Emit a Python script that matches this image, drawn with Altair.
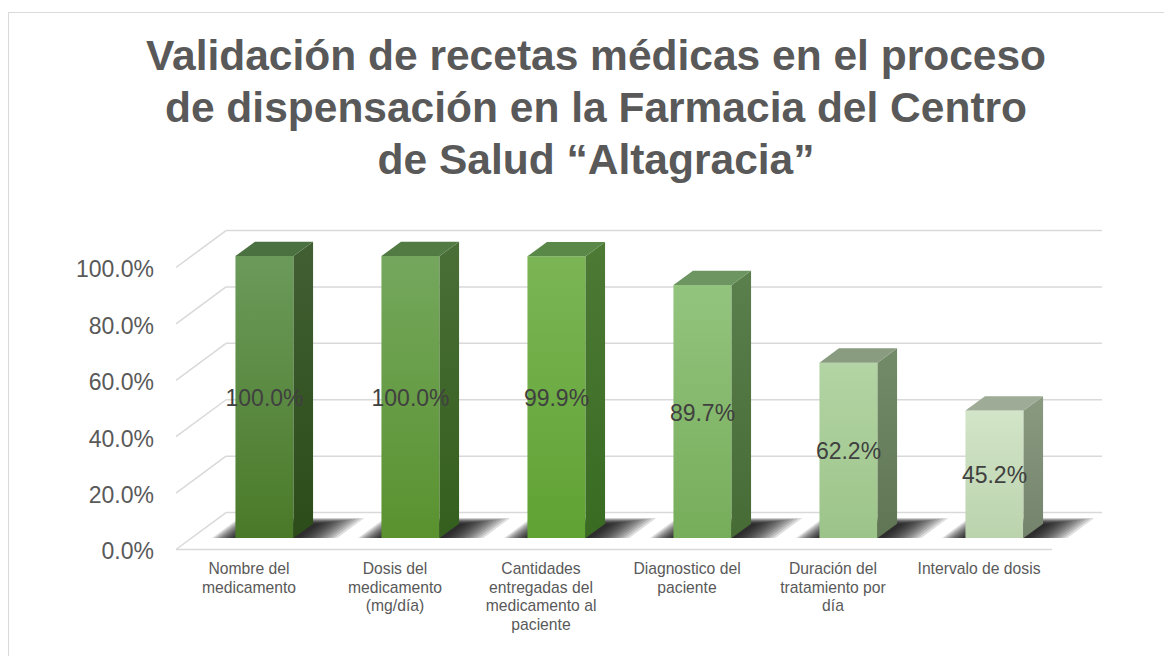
import altair as alt
import pandas as pd

# ---------------- data ----------------
categories = [
    "Nombre del\nmedicamento",
    "Dosis del\nmedicamento\n(mg/día)",
    "Cantidades\nentregadas del\nmedicamento al\npaciente",
    "Diagnostico del\npaciente",
    "Duración del\ntratamiento por\ndía",
    "Intervalo de dosis",
]
values = [100.0, 100.0, 99.9, 89.7, 62.2, 45.2]
value_labels = ["100.0%", "100.0%", "99.9%", "89.7%", "62.2%", "45.2%"]
y_ticks = [0, 20, 40, 60, 80, 100]
y_tick_labels = ["0.0%", "20.0%", "40.0%", "60.0%", "80.0%", "100.0%"]
title_lines = [
    "Validación de recetas médicas en el proceso",
    "de dispensación en la Farmacia del Centro",
    "de Salud “Altagracia”",
]

# ---------------- styles ----------------
front_top = ["#6b9a5b", "#74a75d", "#7bb555", "#93c47e", "#b3d4a4", "#d2e5c8"]
front_bot = ["#4a7a28", "#5a922f", "#60a233", "#76ad5a", "#9cc489", "#bbd3ad"]
side_top = ["#415f33", "#4a6e37", "#4d7a35", "#5b7f4d", "#748b6a", "#8a9a81"]
side_bot = ["#2c4c19", "#345f1d", "#396b22", "#476b35", "#5f7553", "#74836b"]
top_face = ["#4b7141", "#527b44", "#5a8848", "#6c9561", "#8a9c80", "#9eab96"]
GRID = "#d9d9d9"
FONT = "Liberation Sans"

# 3D projection (in data units of the two scales)
X_DOMAIN = [-1.6507, 6.2671]
Y_DOMAIN = [-37.77, 190.60]
DU, DV = 0.3425, 13.1     # full depth of the floor
F0, F1 = 0.31, 0.70       # depth span of the bars
HALF = 0.199              # half width of a bar front
W, H = 1156, 644

# soft shadow built from nested translucent layers (outer -> inner)
SH_STEPS = 12
SH_RIGHT = (0.30, 0.04)
SH_LEFT = (0.16, 0.0)
SH_BACK = (0.15, 0.0)
SH_OPACITY = 0.13

xs = alt.Scale(domain=X_DOMAIN, nice=False, zero=False)
ys = alt.Scale(domain=Y_DOMAIN, nice=False, zero=False)
n = len(values)
left_edge, right_edge = -0.5, n - 0.5

def X(f, **kw):
    return alt.X(f, type="quantitative", scale=xs, axis=None, **kw)

def Y(f, **kw):
    return alt.Y(f, type="quantitative", scale=ys, axis=None, **kw)

def lerp(rng, t):
    return rng[0] + (rng[1] - rng[0]) * t

layers = []

# back wall gridlines
back = pd.DataFrame({"t": y_ticks})
back["x"] = left_edge + DU
back["x2"] = right_edge + DU
back["y"] = back["t"] + DV
layers.append(alt.Chart(back).mark_rule(color=GRID, strokeWidth=1.5).encode(
    x=X("x"), x2="x2", y=Y("y")))

# left wall diagonals
lw = pd.DataFrame({"t": y_ticks})
lw["x"] = left_edge
lw["x2"] = left_edge + DU
lw["y"] = lw["t"] * 1.0
lw["y2"] = lw["t"] + DV
layers.append(alt.Chart(lw).mark_rule(color=GRID, strokeWidth=1.5).encode(
    x=X("x"), x2="x2", y=Y("y"), y2="y2"))

# front floor edge
ff = pd.DataFrame({"x": [left_edge], "x2": [right_edge], "y": [float(y_ticks[0])]})
layers.append(alt.Chart(ff).mark_rule(color=GRID, strokeWidth=1.5).encode(
    x=X("x"), x2="x2", y=Y("y")))

# floor shadows
rows = []
for i, v in enumerate(values):
    for k in range(SH_STEPS):
        t = k / (SH_STEPS - 1)
        r, l, b = lerp(SH_RIGHT, t), lerp(SH_LEFT, t), lerp(SH_BACK, t)
        fb = F1 + b
        rows.append({"g": f"{i}-{k}", "y": F0 * DV,
                     "x": i - HALF + F0 * DU - l, "x2": i + HALF + F0 * DU + r})
        rows.append({"g": f"{i}-{k}", "y": fb * DV,
                     "x": i - HALF + fb * DU - l, "x2": i + HALF + fb * DU + r})
sh = pd.DataFrame(rows)
layers.append(alt.Chart(sh).mark_area(orient="horizontal", color="#000000",
                                      opacity=SH_OPACITY).encode(
    y=Y("y"), x=X("x"), x2="x2", detail="g:N"))

for i, v in enumerate(values):
    # front face
    fr = pd.DataFrame({"x": [i - HALF + F0 * DU], "x2": [i + HALF + F0 * DU],
                       "y": [F0 * DV], "y2": [F0 * DV + v]})
    g = alt.LinearGradient(gradient="linear", x1=0, x2=0, y1=0, y2=1,
                           stops=[alt.GradientStop(color=front_top[i], offset=0),
                                  alt.GradientStop(color=front_bot[i], offset=1)])
    layers.append(alt.Chart(fr).mark_rect(color=g).encode(
        x=X("x"), x2="x2", y=Y("y"), y2="y2"))
    # side face
    sd = pd.DataFrame({"x": [i + HALF + F0 * DU, i + HALF + F1 * DU],
                       "y": [F0 * DV, F1 * DV],
                       "y2": [F0 * DV + v, F1 * DV + v]})
    gs = alt.LinearGradient(gradient="linear", x1=0, x2=0, y1=0, y2=1,
                            stops=[alt.GradientStop(color=side_top[i], offset=0),
                                   alt.GradientStop(color=side_bot[i], offset=1)])
    layers.append(alt.Chart(sd).mark_area(color=gs).encode(
        x=X("x"), y=Y("y"), y2="y2"))
    # top face
    tp = pd.DataFrame({"y": [F0 * DV + v, F1 * DV + v],
                       "x": [i - HALF + F0 * DU, i - HALF + F1 * DU],
                       "x2": [i + HALF + F0 * DU, i + HALF + F1 * DU]})
    layers.append(alt.Chart(tp).mark_area(orient="horizontal", color=top_face[i]).encode(
        y=Y("y"), x=X("x"), x2="x2"))

# data labels
dl = pd.DataFrame({"i": list(range(n)), "v": values, "lab": value_labels})
dl["x"] = dl["i"] + F0 * DU
dl["y"] = F0 * DV + dl["v"] / 2
layers.append(alt.Chart(dl).mark_text(font=FONT, fontSize=23, color="#404040",
                                      baseline="middle", align="center", dy=2).encode(
    x=X("x"), y=Y("y"), text="lab:N"))

# y axis labels (front plane)
yl = pd.DataFrame({"t": y_ticks, "lab": y_tick_labels})
yl["x"] = left_edge
layers.append(alt.Chart(yl).mark_text(font=FONT, fontSize=23, color="#595959",
                                      align="right", baseline="middle", dx=-22, dy=3).encode(
    x=X("x"), y=Y("t"), text="lab:N"))

# category labels
cl = pd.DataFrame({"x": [float(k) for k in range(n)], "lab": categories})
cl["y"] = float(y_ticks[0])
layers.append(alt.Chart(cl).mark_text(font=FONT, fontSize=15.7, color="#595959",
                                      align="center", baseline="top", dy=13,
                                      lineBreak="\n", lineHeight=18.5).encode(
    x=X("x"), y=Y("y"), text="lab:N"))

chart = alt.layer(*layers).properties(
    width=W, height=H,
    autosize=alt.AutoSizeParams(type="none"),
    padding={"left": 0, "top": 4, "right": 0, "bottom": 0},
    title=alt.TitleParams(text=title_lines, anchor="middle", font=FONT, fontSize=42.5,
                          fontWeight="bold", color="#595959", lineHeight=52,
                          baseline="top", offset=0, dx=10, dy=170),
).configure_view(
    stroke=GRID, strokeWidth=1, strokeDash=[W, W + H, H]
)

chart.save("out.html", embed_options={"renderer": "svg", "actions": False})
